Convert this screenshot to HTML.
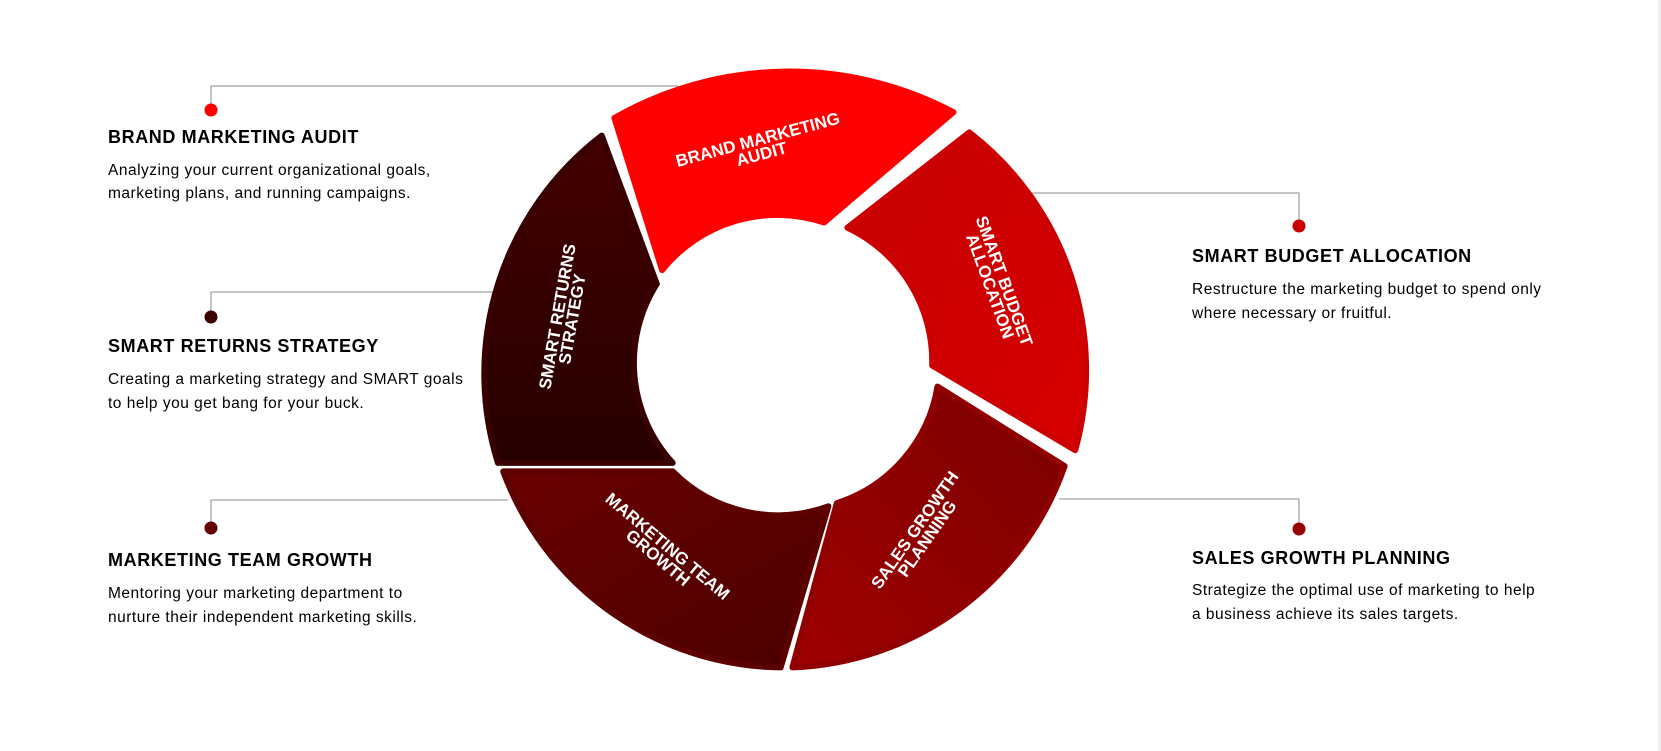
<!DOCTYPE html>
<html><head><meta charset="utf-8"><style>
html,body{margin:0;padding:0;background:#fff;}
body{width:1661px;height:751px;overflow:hidden;position:relative;font-family:"Liberation Sans",sans-serif;}
</style></head><body>
<svg width="1661" height="751" viewBox="0 0 1661 751" xmlns="http://www.w3.org/2000/svg" style="position:absolute;left:0;top:0">
<defs>
<linearGradient id="gb" x1="0" y1="0" x2="1" y2="1"><stop offset="0" stop-color="#c40000"/><stop offset="1" stop-color="#d80000"/></linearGradient>
<linearGradient id="gs" x1="1" y1="0" x2="0" y2="1"><stop offset="0" stop-color="#7a0000"/><stop offset="1" stop-color="#a00000"/></linearGradient>
<linearGradient id="gt" x1="0" y1="0" x2="1" y2="1"><stop offset="0" stop-color="#6a0000"/><stop offset="1" stop-color="#4a0000"/></linearGradient>
<linearGradient id="gr" x1="0" y1="0" x2="0" y2="1"><stop offset="0" stop-color="#450000"/><stop offset="1" stop-color="#250000"/></linearGradient>
</defs>
<rect x="1658" y="0" width="3" height="751" fill="#eeeeee"/>
<g stroke="#888" stroke-width="1" fill="none">
<polyline points="211,110 211,86 678,86"/>
<polyline points="211,317 211,292 498,292"/>
<polyline points="211,528 211,500 508,500"/>
<polyline points="1032,193 1299,193 1299,226"/>
<polyline points="1059,499 1299,499 1299,529"/>
</g>
<g stroke-linejoin="round" stroke-width="6">
<path d="M614.4,118 A352 352 0 0 1 953.4,112.2 L824.1,222.5 A148 148 0 0 0 662.1,270.1 Z" fill="#ff0000" stroke="#ff0000"/>
<path d="M969.3,132.4 A300 300 0 0 1 1075.2,450.2 L932.2,365.5 A148 148 0 0 0 847.4,227.7 Z" fill="url(#gb)" stroke="#cc0000"/>
<path d="M1064.6,466.1 A300 300 0 0 1 792.4,667.4 L836.8,503.2 A148 148 0 0 0 937.5,386.6 Z" fill="url(#gs)" stroke="#900000"/>
<path d="M780.7,667.4 A300 300 0 0 1 503.2,471.4 L672.7,471.4 A148 148 0 0 0 828.4,506.3 Z" fill="url(#gt)" stroke="#5c0000"/>
<path d="M497.9,462.9 A300 300 0 0 1 601.7,135.6 L656.8,283.9 A148 148 0 0 0 672.7,462.9 Z" fill="url(#gr)" stroke="#380000"/>
</g>
<g fill="#fff" font-family="Liberation Sans, sans-serif" font-weight="bold" font-size="17" text-anchor="middle">
<text transform="translate(760,148) rotate(-15)"><tspan x="0" y="-3">BRAND MARKETING</tspan><tspan x="0" y="12">AUDIT</tspan></text>
<text transform="translate(996,284) rotate(70)"><tspan x="0" y="-3">SMART BUDGET</tspan><tspan x="0" y="12">ALLOCATION</tspan></text>
<text transform="translate(922,535) rotate(-55)"><tspan x="0" y="-3">SALES GROWTH</tspan><tspan x="0" y="12">PLANNING</tspan></text>
<text transform="translate(662,553) rotate(40)"><tspan x="0" y="-3">MARKETING TEAM</tspan><tspan x="0" y="12">GROWTH</tspan></text>
<text transform="translate(566,318) rotate(-80)"><tspan x="0" y="-3">SMART RETURNS</tspan><tspan x="0" y="12">STRATEGY</tspan></text>
</g>
<circle cx="211" cy="110" r="6.5" fill="#ff0000"/>
<circle cx="211" cy="317" r="6.5" fill="#3d0000"/>
<circle cx="211" cy="528" r="6.5" fill="#660000"/>
<circle cx="1299" cy="226" r="6.5" fill="#cc0000"/>
<circle cx="1299" cy="529" r="6.5" fill="#990000"/>
<g font-family="Liberation Sans, sans-serif" fill="#000">
<g font-weight="bold" font-size="18" letter-spacing="0.6">
<text x="108" y="143">BRAND MARKETING AUDIT</text>
<text x="108" y="352">SMART RETURNS STRATEGY</text>
<text x="108" y="566">MARKETING TEAM GROWTH</text>
<text x="1192" y="262">SMART BUDGET ALLOCATION</text>
<text x="1192" y="564">SALES GROWTH PLANNING</text>
</g>
<g font-size="15.5" fill="#000" letter-spacing="0.5">
<text x="108" y="175">Analyzing your current organizational goals,</text>
<text x="108" y="198">marketing plans, and running campaigns.</text>
<text x="108" y="384">Creating a marketing strategy and SMART goals</text>
<text x="108" y="408">to help you get bang for your buck.</text>
<text x="108" y="598">Mentoring your marketing department to</text>
<text x="108" y="622">nurture their independent marketing skills.</text>
<text x="1192" y="294">Restructure the marketing budget to spend only</text>
<text x="1192" y="318">where necessary or fruitful.</text>
<text x="1192" y="595">Strategize the optimal use of marketing to help</text>
<text x="1192" y="619">a business achieve its sales targets.</text>
</g>
</g>
</svg>
</body></html>
